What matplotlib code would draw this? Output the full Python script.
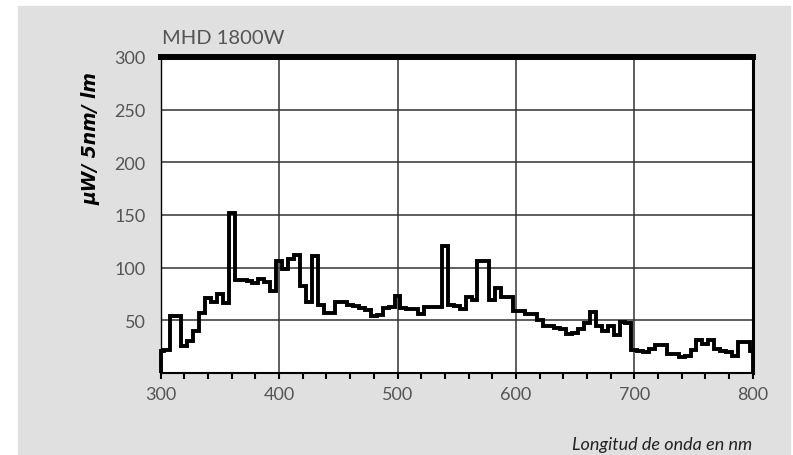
"""
Spectral power distribution of an MHD 1800W lamp, drawn as a 5 nm step chart.
"""
import matplotlib.pyplot as plt
import numpy as np
from matplotlib.patches import Rectangle
from matplotlib.ticker import MultipleLocator

# ---------------------------------------------------------------------------
# Data: relative power per 5 nm band (band centre wavelength in nm)
# ---------------------------------------------------------------------------
wavelength = np.arange(300, 805, 5)
power = [21, 22, 54, 54, 26, 30, 40, 57, 71, 67,      # 300-345
         75, 66, 152, 88, 88, 87, 85, 89, 86, 78,     # 350-395
         106, 99, 108, 112, 83, 67, 111, 65, 57, 57,  # 400-445
         67, 67, 65, 64, 62, 60, 54, 55, 62, 63,      # 450-495
         73, 62, 61, 61, 56, 63, 63, 63, 121, 65,     # 500-545
         64, 61, 72, 69, 106, 106, 69, 81, 72, 72,    # 550-595
         59, 59, 56, 56, 50, 45, 45, 43, 42, 37,      # 600-645
         38, 42, 47, 58, 45, 40, 45, 36, 48, 47,      # 650-695
         22, 21, 20, 23, 27, 27, 18, 18, 15, 16,      # 700-745
         22, 31, 28, 31, 23, 21, 20, 16, 29, 29,      # 750-795
         21]                                          # 800

title = "MHD 1800W"
y_label = "µW/ 5nm/ lm"
x_label = "Longitud de onda en nm"
x_ticks = [300, 400, 500, 600, 700, 800]
y_ticks = [50, 100, 150, 200, 250, 300]

W, H = 793, 456
fig = plt.figure(figsize=(W / 100, H / 100), dpi=100, facecolor="white")

# grey panel behind the chart
fig.patches.append(Rectangle((18 / W, 0), (790 - 18) / W, 1 - 7 / H,
                             transform=fig.transFigure, color="#e0e0e0", zorder=-5))

ax = fig.add_axes([160.7 / W, (H - 374) / H, 592 / W, 316 / H])
ax.set_facecolor("white")

edges = np.concatenate([[300], wavelength[:-1] + 2.5, [800]])
ax.stairs(power, edges, baseline=0, color="black", lw=2.8, clip_on=False, zorder=3)

ax.set_xlim(300, 800)
ax.set_ylim(0, 300)
ax.set_xticks(x_ticks)
ax.xaxis.set_minor_locator(MultipleLocator(20))
ax.set_yticks(y_ticks)

ax.grid(True, which="major", color="#333333", lw=1.1)
ax.set_axisbelow(True)

for side, lw in (("top", 4.3), ("right", 2.2), ("left", 1.0), ("bottom", 1.5)):
    ax.spines[side].set_linewidth(lw)
    ax.spines[side].set_color("black")
    ax.spines[side].set_zorder(4)

ax.tick_params(axis="x", which="both", direction="out", length=4.5, width=1.5,
               color="black", labelsize=13, labelcolor="#555555", pad=5)
ax.tick_params(axis="y", length=0, labelsize=13, labelcolor="#555555", pad=11)
for lbl in ax.get_xticklabels() + ax.get_yticklabels():
    lbl.set_family(["Lato", "DejaVu Sans"])

fig.text(162 / W, 1 - 39 / H, title, ha="left", va="center", fontsize=14.5,
         color="#555555", family=["Lato", "DejaVu Sans"])
fig.text(91 / W, 1 - 139 / H, y_label, rotation=90, ha="center", va="center",
         fontsize=13.5, fontweight="bold", fontstyle="italic", color="black",
         family=["DejaVu Sans"])
fig.text(752 / W, 1 - 445 / H, x_label, ha="right", va="center", fontsize=13,
         fontstyle="italic", color="#222222", family=["Lato", "DejaVu Sans"])

fig.savefig("out.png", dpi=100)
